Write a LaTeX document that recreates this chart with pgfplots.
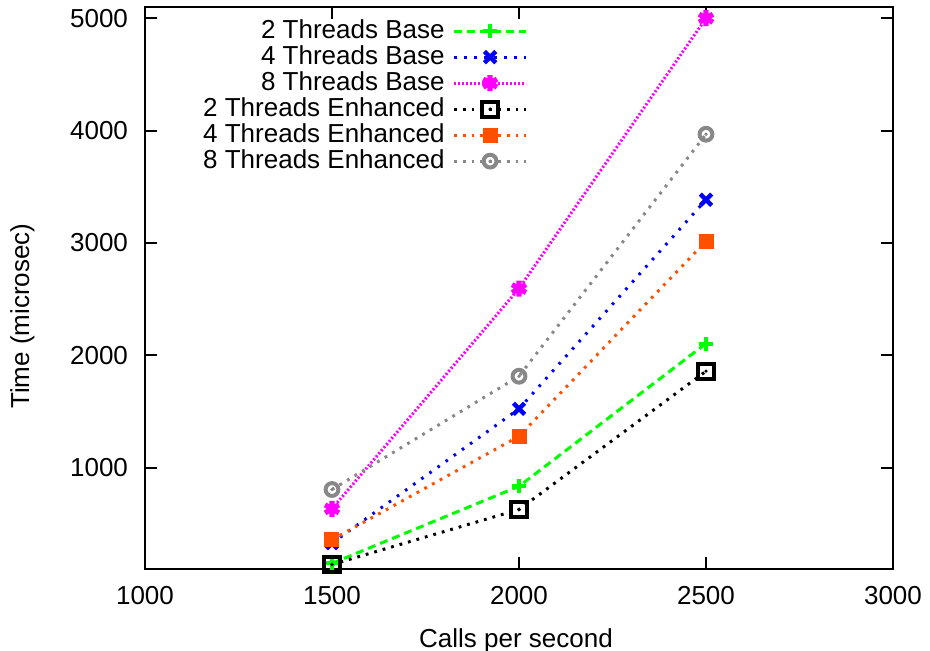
\documentclass[border=0pt]{standalone}
\usepackage{fontspec}
\setmainfont{Liberation Sans}
\usepackage{pgfplots}
\pgfplotsset{compat=1.18}
\definecolor{cgreen}{RGB}{0,255,0}
\definecolor{cblue}{RGB}{0,0,255}
\definecolor{cmag}{RGB}{255,0,255}
\definecolor{corange}{RGB}{255,80,0}
\definecolor{cgray}{RGB}{136,136,136}
\pgfdeclareplotmark{sqdot}{%
  \pgfpathrectangle{\pgfpoint{-\pgfplotmarksize}{-\pgfplotmarksize}}{\pgfpoint{2\pgfplotmarksize}{2\pgfplotmarksize}}%
  \pgfusepathqstroke
  \pgfpathcircle{\pgfpointorigin}{0.9bp}\pgfusepathqfill}
\pgfdeclareplotmark{circdot}{%
  \pgfpathcircle{\pgfpointorigin}{\pgfplotmarksize}%
  \pgfusepathqstroke
  \pgfpathcircle{\pgfpointorigin}{0.9bp}\pgfusepathqfill}
\begin{document}
\fontsize{13bp}{15bp}\selectfont
\begin{tikzpicture}
\begin{axis}[
  scale only axis, width=374bp, height=281bp,
  xmin=1000, xmax=3000, ymin=100, ymax=5100,
  xtick={1000,1500,2000,2500,3000},
  ytick={1000,2000,3000,4000,5000},
  tick align=inside, tick pos=both, major tick length=6bp,
  axis line style={line width=1.2bp},
  every tick/.style={line width=1bp, black},
  /pgf/number format/.cd, set thousands separator={}, assume math mode=true, /pgfplots/.cd,
  xticklabel style={yshift=-4bp},
  yticklabel style={xshift=-4bp},
  every axis x label/.style={at={(axis description cs:0.496,-0.127)}, anchor=center},
  every axis y label/.style={at={(axis description cs:-0.164,0.45)}, anchor=center, rotate=90},
  xlabel={Calls per second},
  ylabel={Time (microsec)},
  legend style={at={(axis description cs:0.52,0.988)}, anchor=north east, draw=none, fill=none,
    nodes={inner ysep=0bp, inner xsep=4bp, text height=10bp, text depth=3bp}},
  legend cell align=right, legend plot pos=right,
  legend image code/.code={\draw[mark repeat=2, mark phase=2] plot coordinates {(0bp,0bp) (18bp,0bp) (36bp,0bp)};},
  every axis plot/.append style={line width=1.5bp},
]
\addplot[color=cgreen, dash pattern=on 4bp off 2.5bp, mark=+, mark size=3.5bp, mark options={solid, line width=2bp}]
  coordinates {(1500,150) (2000,836) (2500,2106)};
\addlegendentry{2 Threads Base}
\addplot[color=cblue, dash pattern=on 1.3bp off 3.7bp, mark=x, mark size=4bp, mark options={solid, line width=2.2bp}]
  coordinates {(1500,330) (2000,1525) (2500,3385)};
\addlegendentry{4 Threads Base}
\addplot[color=cmag, line width=1.5bp, dash pattern=on 1bp off 1bp, mark=asterisk, mark size=4bp, mark options={solid, line width=2.6bp}]
  coordinates {(1500,635) (2000,2595) (2500,5000)};
\addlegendentry{8 Threads Base}
\addplot[color=black, dash pattern=on 1.4bp off 3bp, mark=sqdot, mark size=3.8bp, mark options={solid, line width=2bp}]
  coordinates {(1500,140) (2000,629) (2500,1860)};
\addlegendentry{2 Threads Enhanced}
\addplot[color=corange, dash pattern=on 1.4bp off 3bp, mark=square*, mark size=3bp, mark options={solid}]
  coordinates {(1500,360) (2000,1281) (2500,3016)};
\addlegendentry{4 Threads Enhanced}
\addplot[color=cgray, dash pattern=on 1.4bp off 3bp, mark=circdot, mark size=3.2bp, mark options={solid, line width=2bp}]
  coordinates {(1500,807) (2000,1815) (2500,3968)};
\addlegendentry{8 Threads Enhanced}
\end{axis}
\pgfresetboundingbox
\path ([shift={(-72.5bp,-41bp)}]current axis.south west) rectangle ([shift={(18.5bp,3.5bp)}]current axis.north east);
\end{tikzpicture}
\end{document}
